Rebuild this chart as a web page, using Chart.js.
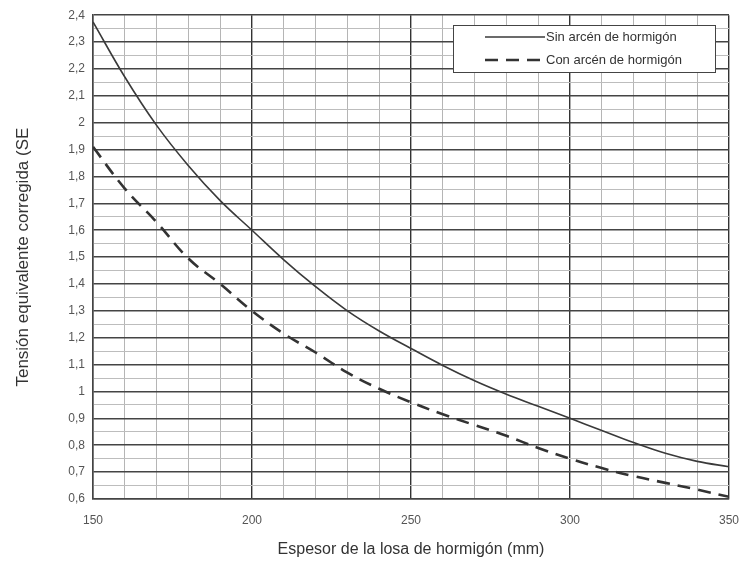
<!DOCTYPE html>
<html lang="es">
<head>
  <meta charset="UTF-8">
  <title>Tensión equivalente corregida</title>
  <script src="https://cdn.jsdelivr.net/npm/chart.js"></script>
  <style>
    body { margin: 0; background: #fff; }
    #wrap { width: 742px; height: 563px; }
  </style>
</head>
<body>
<div id="wrap"><canvas id="chartSE" width="742" height="563"></canvas></div>
<script>
  // espesor de la losa (mm)
  const espesor = [150, 160, 170, 180, 190, 200, 210, 220, 230, 240, 250,
                   260, 270, 280, 290, 300, 310, 320, 330, 340, 350];
  // valores
  const sinArcen = [2.375, 2.17, 1.99, 1.84, 1.71, 1.60, 1.49, 1.39, 1.30, 1.225, 1.16,
                    1.097, 1.04, 0.99, 0.945, 0.90, 0.855, 0.81, 0.77, 0.74, 0.72];
  const conArcen = [1.91, 1.755, 1.63, 1.495, 1.40, 1.30, 1.215, 1.145, 1.07, 1.01, 0.96,
                    0.915, 0.875, 0.835, 0.79, 0.75, 0.715, 0.685, 0.66, 0.635, 0.608];
  const etiquetas = ['Sin arcén de hormigón', 'Con arcén de hormigón'];

  const fuente = '"Liberation Sans", Arial, sans-serif';

  // leyenda dibujada dentro del area del grafico, con recuadro
  const leyendaCaja = {
    id: 'leyendaCaja',
    afterDraw(chart) {
      const ctx = chart.ctx;
      const x = 453, y = 25, w = 262, h = 47;
      ctx.save();
      ctx.fillStyle = '#fff';
      ctx.fillRect(x, y, w, h);
      ctx.strokeStyle = '#444';
      ctx.lineWidth = 1;
      ctx.strokeRect(x + 0.5, y + 0.5, w, h);
      chart.data.datasets.forEach((ds, i) => {
        const ly = y + 12 + i * 23;
        ctx.beginPath();
        ctx.strokeStyle = ds.borderColor;
        ctx.lineWidth = ds.borderWidth;
        ctx.setLineDash(ds.borderDash || []);
        ctx.moveTo(x + 32, ly);
        ctx.lineTo(x + 92, ly);
        ctx.stroke();
        ctx.setLineDash([]);
        ctx.fillStyle = '#333';
        ctx.font = '13px ' + fuente;
        ctx.textBaseline = 'middle';
        ctx.fillText(ds.label, x + 93, ly);
      });
      ctx.restore();
    }
  };

  const ctx = document.getElementById('chartSE').getContext('2d');
  new Chart(ctx, {
    type: 'line',
    data: {
      labels: espesor,
      datasets: [
        {
          label: etiquetas[0],
          data: espesor.map((e, i) => ({ x: e, y: sinArcen[i] })),
          borderColor: '#3a3a3a',
          borderWidth: 1.6,
          pointRadius: 0,
          tension: 0.4,
          fill: false
        },
        {
          label: etiquetas[1],
          data: espesor.map((e, i) => ({ x: e, y: conArcen[i] })),
          borderColor: '#333',
          borderWidth: 2.6,
          borderDash: [13, 8],
          pointRadius: 0,
          tension: 0.4,
          fill: false
        }
      ]
    },
    options: {
      responsive: false,
      animation: false,
      layout: { padding: { top: 8, right: 13, left: 0, bottom: 0 } },
      plugins: {
        legend: { display: false },
        tooltip: { enabled: false }
      },
      scales: {
        x: {
          type: 'linear',
          min: 150,
          max: 350,
          border: { display: true, color: '#444', width: 1.5 },
          ticks: {
            stepSize: 10,
            maxRotation: 0,
            autoSkip: false,
            color: '#555',
            font: { family: fuente, size: 12 },
            padding: 14,
            callback: v => (v % 50 === 0 ? v : '')
          },
          grid: {
            drawTicks: false,
            color: c => (c.tick.value % 50 === 0 ? '#333' : '#b5b5b5'),
            lineWidth: c => (c.tick.value % 50 === 0 ? 1.4 : 1)
          },
          title: {
            display: true,
            text: 'Espesor de la losa de hormigón (mm)',
            color: '#333',
            font: { family: fuente, size: 16 },
            padding: { top: 8 }
          },
          afterFit(scale) {
            scale.height = 64;
            scale.paddingLeft = 0;
            scale.paddingRight = 0;
          }
        },
        y: {
          min: 0.6,
          max: 2.4,
          border: { display: true, color: '#444', width: 1.5 },
          ticks: {
            stepSize: 0.05,
            autoSkip: false,
            color: '#555',
            font: { family: fuente, size: 12 },
            padding: 8,
            callback: v => {
              const c = Math.round(v * 100);
              if (c % 10 !== 0) return '';
              return (c / 100).toString().replace('.', ',');
            }
          },
          grid: {
            drawTicks: false,
            color: c => (Math.round(c.tick.value * 100) % 10 === 0 ? '#444' : '#bdbdbd'),
            lineWidth: c => (Math.round(c.tick.value * 100) % 10 === 0 ? 1.6 : 1)
          },
          title: {
            display: true,
            text: 'Tensión equivalente corregida (SE',
            color: '#333',
            font: { family: fuente, size: 17 },
            padding: { top: 13, bottom: 0 }
          },
          afterFit(scale) { scale.width = 93; }
        }
      }
    },
    plugins: [leyendaCaja]
  });
</script>
</body>
</html>
